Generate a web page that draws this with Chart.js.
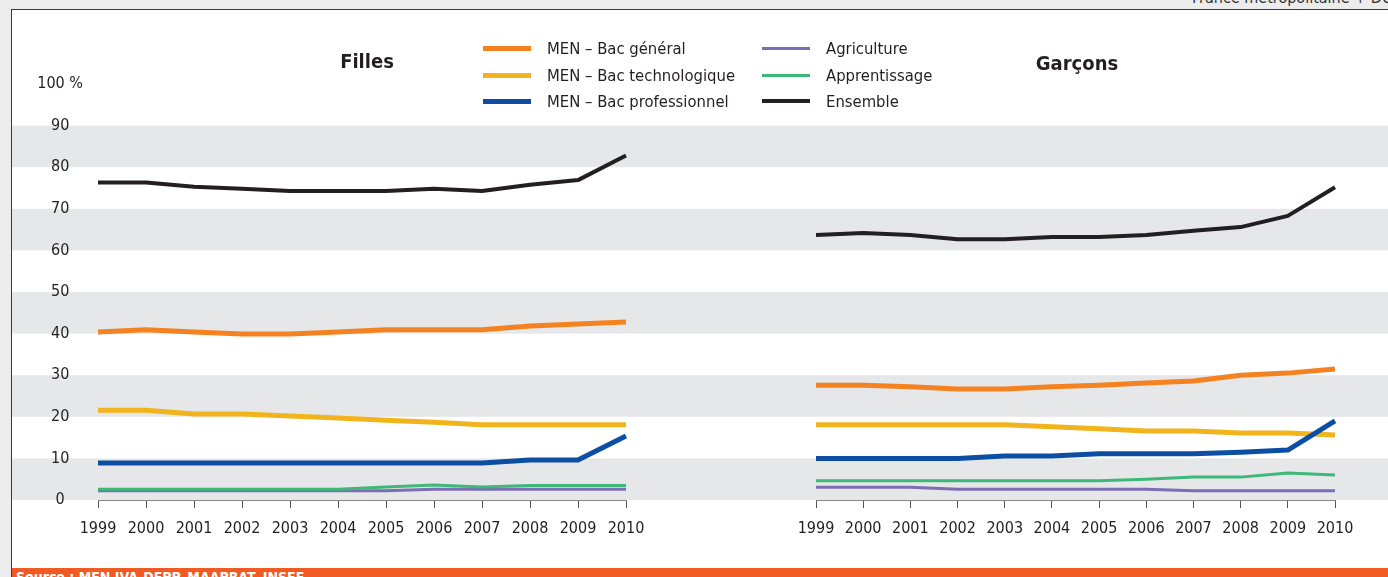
<!DOCTYPE html>
<html lang="fr">
  <head>
    <meta charset="UTF-8" />
    <style>
      html, body { margin: 0; padding: 0; }
      body {
        width: 1388px; height: 577px; overflow: hidden; position: relative;
        background: #ececec;
        font-family: "DejaVu Sans Condensed", "Liberation Sans Narrow", sans-serif;
        color: #231f20;
      }
      #panel {
        position: absolute; left: 11px; top: 9px; right: 0; bottom: 0;
        background: #fff; border-left: 1.5px solid #3a3a3a; border-top: 1.5px solid #3a3a3a;
      }
      #zone { position: absolute; top: -12px; left: 1192px; font-size: 16px; white-space: nowrap; color: #333; }
      #c1 { position: absolute; left: 12px; top: 10px; }
      #c2 { position: absolute; left: 712px; top: 10px; }
      .titre { position: absolute; font-weight: bold; font-size: 20px; transform: translate(-50%, -50%); }
      .leg { position: absolute; height: 26px; display: flex; align-items: center; font-size: 16.5px; white-space: nowrap; }
      .leg span.trait { display: inline-block; width: 48px; margin-right: 16px; }
      #source {
        position: absolute; left: 12px; top: 568px; right: 0; height: 9px; overflow: hidden;
        background: #f15a22; color: #fff; font-weight: bold; font-size: 14px;
      }
      #source div { position: absolute; top: 1px; left: 4px; white-space: nowrap; }
    </style>
  </head>
  <body>
    <div id="panel"></div>
    <div id="zone">France métropolitaine + DOM</div>
    <canvas id="c1" width="700" height="550"></canvas>
    <canvas id="c2" width="676" height="550"></canvas>
    <div class="titre" style="left:367px; top:61px">Filles</div>
    <div class="titre" style="left:1077px; top:63px">Garçons</div>
    <div id="legende"></div>
    <div id="source"><div>Source : MEN IVA-DEPP, MAAPRAT, INSEE</div></div>

    <script src="https://cdn.jsdelivr.net/npm/chart.js@4.4.1/dist/chart.umd.min.js"></script>
    <script>
      // données (%)
      var annees = ["1999", "2000", "2001", "2002", "2003", "2004", "2005", "2006", "2007", "2008", "2009", "2010"];
      var yTicks = [0, 10, 20, 30, 40, 50, 60, 70, 80, 90, 100];
      var bandes = [[0, 10], [20, 30], [40, 50], [60, 70], [80, 90]];

      var fillesGeneral = [40.4, 40.9, 40.4, 39.9, 39.9, 40.4, 40.9, 40.9, 40.9, 41.8, 42.3, 42.8];
      var fillesTechno = [21.6, 21.6, 20.7, 20.7, 20.2, 19.7, 19.2, 18.7, 18.1, 18.1, 18.1, 18.1];
      var fillesPro = [8.9, 8.9, 8.9, 8.9, 8.9, 8.9, 8.9, 8.9, 8.9, 9.6, 9.6, 15.4];
      var fillesAgri = [2.2, 2.2, 2.2, 2.2, 2.2, 2.2, 2.2, 2.6, 2.6, 2.6, 2.6, 2.6];
      var fillesApprent = [2.6, 2.6, 2.6, 2.6, 2.6, 2.6, 3.1, 3.6, 3.1, 3.5, 3.5, 3.5];
      var fillesEnsemble = [76.3, 76.3, 75.3, 74.8, 74.3, 74.3, 74.3, 74.8, 74.3, 75.8, 76.9, 82.8];

      var garconsGeneral = [27.6, 27.6, 27.2, 26.7, 26.7, 27.2, 27.6, 28.1, 28.6, 30.0, 30.5, 31.5];
      var garconsTechno = [18.1, 18.1, 18.1, 18.1, 18.1, 17.6, 17.1, 16.6, 16.6, 16.1, 16.1, 15.6];
      var garconsPro = [10.0, 10.0, 10.0, 10.0, 10.6, 10.6, 11.1, 11.1, 11.1, 11.5, 12.0, 19.0];
      var garconsAgri = [3.05, 3.05, 3.05, 2.6, 2.6, 2.6, 2.6, 2.6, 2.2, 2.2, 2.2, 2.2];
      var garconsApprent = [4.6, 4.6, 4.6, 4.6, 4.6, 4.6, 4.6, 5.0, 5.5, 5.5, 6.5, 6.0];
      var garconsEnsemble = [63.7, 64.2, 63.7, 62.7, 62.7, 63.2, 63.2, 63.7, 64.7, 65.6, 68.3, 75.2];

      var series = [
        { nom: "MEN – Bac général", couleur: "#f58220", epaisseur: 5 },
        { nom: "MEN – Bac technologique", couleur: "#f2b41c", epaisseur: 5 },
        { nom: "MEN – Bac professionnel", couleur: "#0b4ea2", epaisseur: 5 },
        { nom: "Agriculture", couleur: "#7c6db5", epaisseur: 3 },
        { nom: "Apprentissage", couleur: "#3cb878", epaisseur: 3 },
        { nom: "Ensemble", couleur: "#231f20", epaisseur: 4 },
      ];

      // légende en deux colonnes
      var legende = document.getElementById("legende");
      series.forEach(function (s, i) {
        var d = document.createElement("div");
        d.className = "leg";
        d.style.left = (i < 3 ? 483 : 762) + "px";
        d.style.top = [35, 62, 88][i % 3] + "px";
        d.innerHTML = '<span class="trait" style="height:' + s.epaisseur + 'px;background:' + s.couleur + '"></span>' + s.nom;
        legende.appendChild(d);
      });

      var fond = {
        id: "bandes",
        beforeDraw: function (chart) {
          var ctx = chart.ctx, y = chart.scales.y;
          ctx.save();
          ctx.fillStyle = "#e6e7e8";
          bandes.forEach(function (b) {
            var y1 = y.getPixelForValue(b[1]), y0 = y.getPixelForValue(b[0]);
            ctx.fillRect(0, y1, chart.width, y0 - y1);
          });
          ctx.restore();
        },
      };

      var police = { family: '"DejaVu Sans Condensed", "Liberation Sans Narrow", sans-serif', size: 16 };

      function jeux(valeurs) {
        var ordre = [2, 0, 1, 5, 4, 3];
        return ordre.map(function (i) {
          return {
            label: series[i].nom,
            data: valeurs[i],
            borderColor: series[i].couleur,
            borderWidth: series[i].epaisseur,
            pointRadius: 0,
            tension: 0,
            borderCapStyle: "butt",
            borderJoinStyle: "round",
            fill: false,
          };
        });
      }

      function graphique(id, valeurs, avecY, padding) {
        var axeY = {
          display: avecY,
          min: 0,
          max: 100,
          afterBuildTicks: function (s) { s.ticks = yTicks.map(function (v) { return { value: v }; }); },
          grid: { display: false },
          border: { display: false },
          ticks: {
            color: "#231f20",
            font: police,
            padding: 7,
            crossAlign: "center",
            callback: function (v) { return v === 100 ? "100 %" : v; },
          },
        };
        if (avecY) axeY.afterFit = function (s) { s.width = 86; };
        return new Chart(document.getElementById(id), {
          type: "line",
          data: { labels: annees, datasets: jeux(valeurs) },
          plugins: [fond],
          options: {
            responsive: false,
            animation: false,
            layout: { padding: padding },
            plugins: { legend: { display: false }, tooltip: { enabled: false } },
            scales: {
              x: {
                grid: { drawOnChartArea: false, drawTicks: true, tickLength: 8, color: "#555" },
                border: { display: true, color: "#888", width: 1 },
                ticks: { color: "#231f20", font: police, padding: 11, maxRotation: 0, autoSkip: false },
                afterFit: function (s) { s.height = 60; },
              },
              y: axeY,
            },
          },
        });
      }

      graphique("c1", [fillesGeneral, fillesTechno, fillesPro, fillesAgri, fillesApprent, fillesEnsemble], true,
        { top: 74, left: 0, right: 86, bottom: 0 });
      graphique("c2", [garconsGeneral, garconsTechno, garconsPro, garconsAgri, garconsApprent, garconsEnsemble], false,
        { top: 74, left: 104, right: 53, bottom: 0 });
    </script>
  </body>
</html>
